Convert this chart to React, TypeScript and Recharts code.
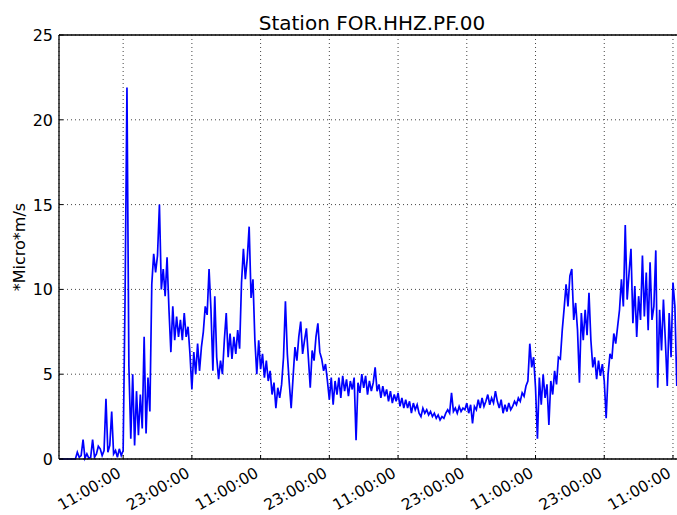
import React from 'react';
import { LineChart, Line, XAxis, YAxis, CartesianGrid, ReferenceLine } from 'recharts';

// ground motion amplitude, one reading every 20 minutes starting at hour 0
const startHour = 0;
const stepHours = 1 / 3;
const amplitude = [
  0, 0, 0, 0, 0, 0, 0, 0, 0, 0.4,
  0.1, 0.2, 1.15, 0.05, 0.3, 0.05, 0.1, 1.15, 0.1, 0.3,
  0.75, 0.6, 0.2, 0.5, 3.55, 0.4, 0.8, 2.8, 0.3, 0.5,
  0.1, 0.6, 0.2, 0.5, 9.5, 21.9, 5.5, 1.2, 5.0, 0.8,
  4.0, 1.4, 3.8, 1.8, 7.2, 1.5, 4.8, 2.8, 10.3, 12.1,
  11.0, 12.0, 15.0, 10.0, 11.2, 9.6, 11.9, 8.8, 6.3, 9.0,
  7.0, 8.4, 7.2, 8.2, 7.0, 8.6, 7.2, 7.8, 6.2, 4.1,
  6.3, 5.0, 6.8, 5.2, 6.6, 7.5, 9.0, 8.5, 11.2, 8.8,
  5.2, 9.6, 6.0, 4.7, 5.8, 5.0, 7.0, 8.6, 6.0, 7.4,
  5.9, 7.2, 6.2, 7.6, 6.5, 10.4, 12.4, 10.6, 11.8, 13.7,
  9.5, 10.6, 7.0, 5.0, 7.0, 5.3, 6.2, 4.8, 5.8, 4.6,
  5.2, 3.8, 4.5, 3.0, 4.2, 3.6, 4.4, 6.0, 9.3, 6.2,
  4.5, 3.0, 4.8, 6.6, 5.8, 7.2, 8.1, 6.2, 7.0, 7.7,
  6.0, 4.2, 6.4, 5.8, 7.2, 8.0, 6.3, 5.9, 5.2, 5.6,
  4.6, 3.5, 4.8, 3.2, 4.6, 3.8, 4.8, 3.6, 4.9, 4.0,
  4.7, 3.7, 4.6, 4.1, 4.8, 1.1, 4.5, 3.9, 5.0, 4.2,
  4.9, 3.8, 4.6, 4.0, 4.5, 5.4, 4.0, 4.4, 3.6, 4.3,
  3.7, 4.1, 3.4, 4.0, 3.3, 3.8, 3.4, 3.9, 3.1, 3.6,
  3.0, 3.5, 3.0, 3.4, 2.7, 3.3, 2.9, 3.2, 2.7, 2.5,
  3.0, 2.7, 2.9, 2.6, 2.8, 2.5, 2.7, 2.4, 2.6, 2.3,
  2.5, 2.4, 2.7, 2.9, 2.7, 3.9, 2.8, 3.0, 2.7, 3.1,
  2.8, 3.0, 2.9, 3.3, 2.7, 3.2, 2.1, 3.1, 2.9, 3.5,
  3.0, 3.6, 3.1, 3.4, 3.8, 3.2, 3.6, 3.3, 4.0, 3.4,
  3.0, 3.5, 2.7, 3.2, 2.8, 3.3, 2.9, 3.1, 3.4, 3.2,
  3.6, 3.4, 3.9, 3.7, 4.3, 4.6, 6.8, 5.4, 6.0, 4.2,
  1.2, 4.8, 3.2, 5.0, 3.6, 4.4, 2.0, 4.6, 3.8, 5.2,
  4.4, 6.0, 5.9, 7.6, 8.9, 10.3, 9.0, 10.8, 11.2, 8.2,
  9.2, 7.6, 4.5, 8.6, 7.0, 8.8, 7.3, 9.8, 7.0, 5.4,
  6.0, 4.7, 5.8, 4.9, 5.6, 4.6, 2.4, 5.0, 6.2, 5.9,
  7.4, 6.8, 7.8, 8.8, 10.6, 9.0, 13.8, 9.4, 11.0, 12.4,
  8.0, 10.2, 7.2, 9.6, 8.2, 12.0, 8.4, 11.0, 7.6, 11.6,
  8.2, 9.0, 12.3, 4.2, 8.8, 6.4, 9.4, 7.0, 4.3, 8.6,
  6.0, 10.4, 9.0, 4.3, 7.5, 9.0,
];

const xTickHours = [11, 23, 35, 47, 59, 71, 83, 95, 107];
const xTickLabels = ['11:00:00', '23:00:00', '11:00:00', '23:00:00', '11:00:00', '23:00:00', '11:00:00', '23:00:00', '11:00:00'];
const yTicks = [0, 5, 10, 15, 20, 25];

const data = amplitude.map((v, i) => ({ t: startHour + i * stepHours, v }));

const FONT = 'DejaVu Sans, sans-serif';

// rotated date labels like matplotlib's autofmt_xdate, plus the inward tick mark
const XTick = ({ x, y, index }: any) => (
  <g>
    <line x1={x} y1={y} x2={x} y2={y - 4} stroke="#000" />
    <text
      x={x - 1}
      y={y + 17}
      textAnchor="end"
      transform={`rotate(-30, ${x - 1}, ${y + 17})`}
      fontSize={15.5}
      fontFamily={FONT}
      fill="#000"
    >
      {xTickLabels[index]}
    </text>
  </g>
);

const YTick = ({ x, y, payload }: any) => (
  <g>
    <line x1={x + 6} y1={y} x2={x + 10} y2={y} stroke="#000" />
    <text x={x} y={y} dy={6} textAnchor="end" fontSize={16} fontFamily={FONT} fill="#000">
      {payload.value}
    </text>
  </g>
);

export default function App() {
  return (
    <div style={{ position: 'absolute', left: 0, top: 0, width: 677, height: 515, overflow: 'hidden', background: '#fff' }}>
      <LineChart width={700} height={515} data={data} margin={{ top: 35, right: 19, bottom: 0, left: 0 }}>
        <CartesianGrid stroke="#444" strokeDasharray="1 3" strokeWidth={1} />
        <XAxis
          dataKey="t"
          type="number"
          domain={[-0.2, 108.4]}
          ticks={xTickHours}
          interval={0}
          allowDataOverflow
          height={56}
          tickSize={0}
          tickMargin={0}
          tickLine={false}
          tick={<XTick />}
          axisLine={{ stroke: '#000', strokeWidth: 1.3 }}
        />
        <YAxis
          type="number"
          domain={[0, 25]}
          ticks={yTicks}
          interval={0}
          width={59}
          tickSize={0}
          tickMargin={6}
          tickLine={false}
          tick={<YTick />}
          axisLine={{ stroke: '#000', strokeWidth: 1.3 }}
        />
        <ReferenceLine y={25} stroke="#000" strokeWidth={1.3} />
        <Line
          dataKey="v"
          type="linear"
          stroke="#0000ff"
          strokeWidth={1.7}
          dot={false}
          isAnimationActive={false}
        />
      </LineChart>
      <svg width={677} height={515} style={{ position: 'absolute', left: 0, top: 0, pointerEvents: 'none' }}>
        <text x={372} y={30} textAnchor="middle" fontSize={20} fontFamily={FONT} fill="#000">
          Station FOR.HHZ.PF.00
        </text>
        <text transform="rotate(-90)" x={-247} y={25} textAnchor="middle" fontSize={16} fontFamily={FONT} fill="#000">
          *Micro*m/s
        </text>
      </svg>
    </div>
  );
}
